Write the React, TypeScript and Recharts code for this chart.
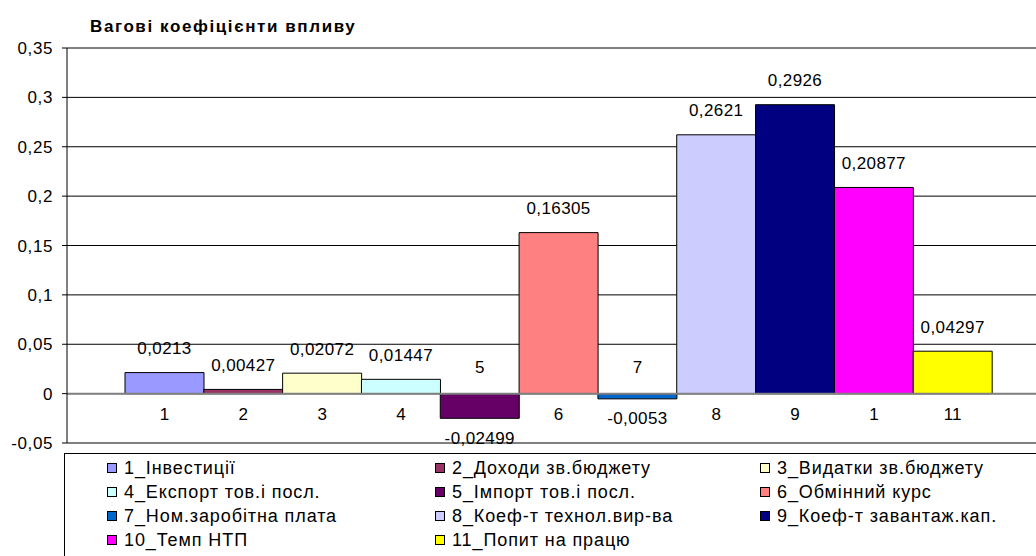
import React from 'react';
import {
  BarChart,
  Bar,
  Cell,
  XAxis,
  YAxis,
  CartesianGrid,
  ReferenceLine,
  LabelList
} from 'recharts';

const categories = ['1', '2', '3', '4', '5', '6', '7', '8', '9', '1', '11'];
const seriesNames = [
  '1_Інвестиції',
  '2_Доходи зв.бюджету',
  '3_Видатки зв.бюджету',
  '4_Експорт тов.і посл.',
  '5_Імпорт тов.і посл.',
  '6_Обмінний курс',
  '7_Ном.заробітна плата',
  '8_Коеф-т технол.вир-ва',
  '9_Коеф-т завантаж.кап.',
  '10_Темп НТП',
  '11_Попит на працю'
];
const weights = [0.0213, 0.00427, 0.02072, 0.01447, -0.02499, 0.16305, -0.0053, 0.2621, 0.2926, 0.20877, 0.04297];
const yTicks = [-0.05, 0, 0.05, 0.1, 0.15, 0.2, 0.25, 0.3, 0.35];

const colors = ['#9999FF', '#993366', '#FFFFCC', '#CCFFFF', '#660066', '#FF8080', '#0066CC', '#CCCCFF', '#000080', '#FF00FF', '#FFFF00'];

const data = weights.map((v, i) => ({ id: i, num: categories[i], value: v }));

const FONT = '"Liberation Sans", Arial, sans-serif';
const comma = (v: number) => String(v).replace('.', ',');

const ValueLabel = (props: any) => {
  const { x, y, width, height, value } = props;
  const top = Math.min(y, y + height);
  const bottom = Math.max(y, y + height);
  const ty = value >= 0 ? top - 24 : bottom + 20;
  return (
    <text x={x + width / 2} y={ty} textAnchor="middle" dominantBaseline="central"
      fontFamily={FONT} fontSize={17} letterSpacing={0.4} fill="#000">
      {comma(value)}
    </text>
  );
};

const NumLabel = (props: any) => {
  const { x, y, width, height, index } = props;
  const top = Math.min(y, y + height);
  const bottom = Math.max(y, y + height);
  const v = weights[index];
  const ty = v >= 0 ? bottom + 21 : top - 26;
  return (
    <text x={x + width / 2} y={ty} textAnchor="middle" dominantBaseline="central"
      fontFamily={FONT} fontSize={17} fill="#000">
      {categories[index]}
    </text>
  );
};

const legendCols = [107, 435, 760];
const legendRows = [468, 492, 516, 540];

export default function App() {
  return (
    <div style={{ position: 'absolute', left: 0, top: 0, width: 1036, height: 556, overflow: 'hidden', background: '#fff' }}>
      <div style={{ position: 'absolute', left: 90, top: 17, fontFamily: FONT, fontWeight: 'bold', fontSize: 17, letterSpacing: 1.6, lineHeight: '20px', whiteSpace: 'nowrap' }}>
        Вагові коефіцієнти впливу
      </div>
      <BarChart width={1036} height={556} data={data}
        margin={{ top: 48, right: 0, bottom: 113, left: 0 }}
        barCategoryGap={0} barGap={0}>
        <CartesianGrid horizontal vertical={false} stroke="#000" />
        <XAxis dataKey="id" hide padding={{ left: 58, right: 44 }} />
        <YAxis width={67} domain={[-0.05, 0.35]} ticks={yTicks} tickFormatter={comma}
          axisLine={{ stroke: '#000' }} tickLine={{ stroke: '#000' }} tickSize={5} tickMargin={9}
          tick={{ fill: '#000', fontSize: 17, fontFamily: FONT, letterSpacing: 0.6 }} />
        <ReferenceLine y={0} stroke="#808080" strokeWidth={2} />
        <ReferenceLine y={-0.05} stroke="#808080" strokeWidth={2} />
        <Bar dataKey="value" stroke="#000" strokeWidth={1} isAnimationActive={false}>
          {data.map((d, i) => <Cell key={i} fill={colors[i]} />)}
          <LabelList dataKey="value" content={ValueLabel} />
          <LabelList dataKey="num" content={NumLabel} />
        </Bar>
      </BarChart>
      <div style={{ position: 'absolute', left: 64, top: 453, width: 1000, height: 120, border: '1px solid #000', background: '#fff' }} />
      {seriesNames.map((name, i) => {
        const col = legendCols[i % 3];
        const row = legendRows[Math.floor(i / 3)];
        return (
          <div key={i} style={{ position: 'absolute', left: col, top: row - 11, height: 22, display: 'flex', alignItems: 'center', whiteSpace: 'nowrap' }}>
            <span style={{ display: 'inline-block', width: 8, height: 8, border: '1px solid #000', background: colors[i], marginRight: 7 }} />
            <span style={{ fontFamily: FONT, fontSize: 18, letterSpacing: 0.9, lineHeight: '22px' }}>{name}</span>
          </div>
        );
      })}
    </div>
  );
}
